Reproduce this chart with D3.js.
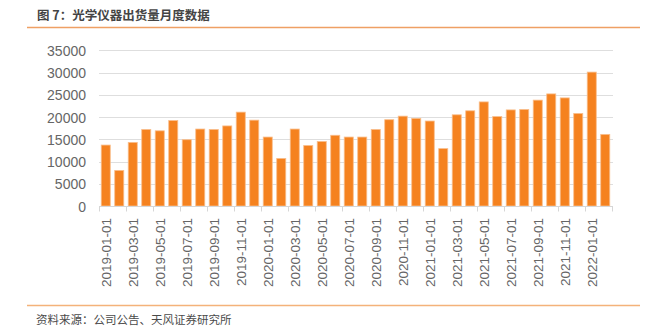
<!DOCTYPE html>
<html>
<head>
<meta charset="utf-8">
<script src="https://cdn.jsdelivr.net/npm/d3@7/dist/d3.min.js"></script>
<style>
  html, body { margin: 0; padding: 0; background: #fff; }
  svg { display: block; }
</style>
</head>
<body>
<svg id="chart" width="648" height="328"></svg>
<script>
// Monthly shipments of optical instruments, Jan 2019 – Feb 2022
const months = [
  "2019-01-01","2019-02-01","2019-03-01","2019-04-01","2019-05-01","2019-06-01",
  "2019-07-01","2019-08-01","2019-09-01","2019-10-01","2019-11-01","2019-12-01",
  "2020-01-01","2020-02-01","2020-03-01","2020-04-01","2020-05-01","2020-06-01",
  "2020-07-01","2020-08-01","2020-09-01","2020-10-01","2020-11-01","2020-12-01",
  "2021-01-01","2021-02-01","2021-03-01","2021-04-01","2021-05-01","2021-06-01",
  "2021-07-01","2021-08-01","2021-09-01","2021-10-01","2021-11-01","2021-12-01",
  "2022-01-01","2022-02-01"
];
const shipments = [
  13700, 8000, 14300, 17200, 16900, 19200,
  14900, 17300, 17200, 18000, 21100, 19300,
  15500, 10700, 17300, 13600, 14500, 15900,
  15500, 15500, 17200, 19400, 20200, 19700,
  19100, 12900, 20500, 21400, 23400, 20100,
  21600, 21700, 23800, 25200, 24300, 20800,
  30100, 16100
];
const yTicks = [0, 5000, 10000, 15000, 20000, 25000, 30000, 35000];

const titleText = "图 7：光学仪器出货量月度数据";
const sourceText = "资料来源：公司公告、天风证券研究所";

const svg = d3.select("#chart");
const font = "'Liberation Sans', Arial, 'Noto Sans CJK SC', sans-serif";
const cjkFont = "'Noto Sans CJK SC', 'Liberation Sans', sans-serif";

const plot = { left: 99, right: 612, top: 50.3, bottom: 206 };

const x = d3.scaleBand()
  .domain(months)
  .range([plot.left, plot.right])
  .paddingInner(0.33)
  .paddingOuter(0.165);

const y = d3.scaleLinear()
  .domain([0, 35000])
  .range([plot.bottom, plot.top]);

// header and footer rules
svg.append("line")
  .attr("x1", 27).attr("x2", 640).attr("y1", 27.5).attr("y2", 27.5)
  .attr("stroke", "#EFA064").attr("stroke-width", 1.5);
svg.append("line")
  .attr("x1", 27).attr("x2", 640).attr("y1", 305.5).attr("y2", 305.5)
  .attr("stroke", "#F4B27A").attr("stroke-width", 1.5);

svg.append("text")
  .attr("x", 37).attr("y", 19.5)
  .attr("font-family", cjkFont)
  .attr("font-size", 12.5)
  .attr("font-weight", 600)
  .attr("fill", "#444")
  .text(titleText);

svg.append("text")
  .attr("x", 36).attr("y", 324)
  .attr("font-family", cjkFont)
  .attr("font-size", 11.5)
  .attr("fill", "#4a4a4a")
  .text(sourceText);

// horizontal gridlines
svg.append("g")
  .selectAll("line")
  .data(yTicks.filter(d => d > 0))
  .join("line")
  .attr("x1", plot.left).attr("x2", plot.right + 1)
  .attr("y1", d => Math.round(y(d)) + 0.5)
  .attr("y2", d => Math.round(y(d)) + 0.5)
  .attr("stroke", "#dedede")
  .attr("stroke-width", 1);

// y axis labels
const yAxis = d3.axisLeft(y)
  .tickValues(yTicks)
  .tickFormat(d3.format("d"))
  .tickSize(0)
  .tickPadding(0);
const yG = svg.append("g")
  .attr("transform", `translate(86,0)`)
  .call(yAxis);
yG.select(".domain").remove();
yG.selectAll("text")
  .attr("font-family", font)
  .attr("font-size", 14)
  .attr("fill", "#666")
  .attr("dy", "0.36em");

// bars
svg.append("g")
  .selectAll("rect")
  .data(months.map((m, i) => ({ m, v: shipments[i] })))
  .join("rect")
  .attr("x", d => x(d.m))
  .attr("width", x.bandwidth())
  .attr("y", d => y(d.v))
  .attr("height", d => y(0) - y(d.v))
  .attr("fill", "#F5821F")
  .attr("stroke", "#F9BE8C")
  .attr("stroke-width", 0.8);

// x axis: baseline, ticks between every second month, rotated labels
const step = x.step();
const baseline = Math.round(y(0)) + 0.5;
svg.append("line")
  .attr("x1", plot.left).attr("x2", plot.right + 1)
  .attr("y1", baseline).attr("y2", baseline)
  .attr("stroke", "#d6d6d6");

const tickXs = d3.range(0, months.length + 1, 2).map(i => plot.left + i * step);
svg.append("g")
  .selectAll("line")
  .data(tickXs)
  .join("line")
  .attr("x1", d => Math.round(d) + 0.5).attr("x2", d => Math.round(d) + 0.5)
  .attr("y1", baseline).attr("y2", baseline + 5)
  .attr("stroke", "#d6d6d6");

svg.append("g")
  .selectAll("text")
  .data(months.filter((m, i) => i % 2 === 0))
  .join("text")
  .attr("transform", d => `translate(${x(d) + x.bandwidth() / 2 + 5},218) rotate(-90)`)
  .attr("text-anchor", "end")
  .attr("font-family", font)
  .attr("font-size", 13.5)
  .attr("fill", "#666")
  .text(d => d);
</script>
</body>
</html>
